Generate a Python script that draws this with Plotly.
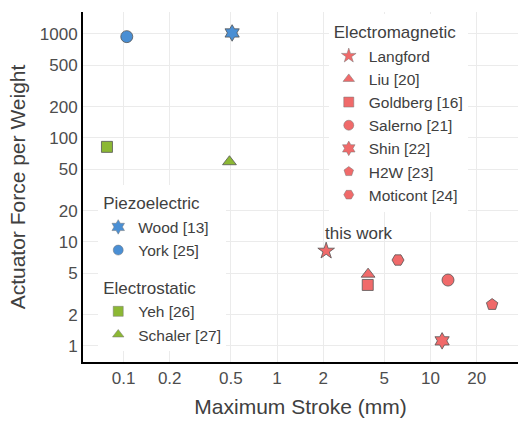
import plotly.graph_objects as go
import math

# Data (Maximum Stroke in mm, Actuator Force per Weight)
em_names = ["Langford", "Liu [20]", "Goldberg [16]", "Salerno [21]", "Shin [22]", "H2W [23]", "Moticont [24]"]
em_x = [2.09, 3.92, 3.9, 13.0, 11.9, 25.2, 6.14]
em_y = [8.2, 4.9, 3.86, 4.3, 1.12, 2.5, 6.7]
em_sym = ["star", "triangle-up", "square", "circle", "hexagram", "pentagon", "hexagon2"]

pz_names = ["Wood [13]", "York [25]"]
pz_x = [0.51, 0.105]
pz_y = [1020, 940]
pz_sym = ["hexagram", "circle"]

es_names = ["Yeh [26]", "Schaler [27]"]
es_x = [0.078, 0.49]
es_y = [82, 59]
es_sym = ["square", "triangle-up"]

x_ticks = [0.1, 0.2, 0.5, 1, 2, 5, 10, 20]
x_tick_text = ["0.1", "0.2", "0.5", "1", "2", "5", "10", "20"]
y_ticks = [1, 2, 5, 10, 20, 50, 100, 200, 500, 1000]
y_tick_text = ["1", "2", "5", "10", "20", "50", "100", "200", "500", "1000"]

RED = "#F06A6A"
BLUE = "#4A8FD4"
GREEN = "#8CB834"
OUTLINE = dict(color="#555555", width=0.8)
FONT = "Liberation Sans, Arial, sans-serif"

fig = go.Figure()

def sz(sym):
    if sym in ("star", "hexagram"):
        return 12.5
    if sym == "triangle-up":
        return 12
    if sym == "square":
        return 11
    return 12

def lsz(sym):
    if sym in ("star", "hexagram"):
        return 11
    return 10

groups = [
    (em_names, em_x, em_y, em_sym, RED, "legend", "em", "Electromagnetic"),
    (pz_names, pz_x, pz_y, pz_sym, BLUE, "legend2", "pz", "Piezoelectric"),
    (es_names, es_x, es_y, es_sym, GREEN, "legend2", "es", "Electrostatic"),
]

for names, xs, ys, syms, col, leg, grp, title in groups:
    for n, x, y, s in zip(names, xs, ys, syms):
        # plotted mark
        fig.add_trace(go.Scatter(x=[x], y=[y], mode="markers", name=n, showlegend=False,
                                 marker=dict(symbol=s, size=sz(s), color=col, line=OUTLINE)))
        # legend entry with smaller symbol
        fig.add_trace(go.Scatter(x=[None], y=[None], mode="markers", name=n,
                                 marker=dict(symbol=s, size=lsz(s), color=col, line=dict(color="#777777", width=0.5)),
                                 legend=leg, legendgroup=grp,
                                 legendgrouptitle=dict(text=title)))

fig.add_annotation(x=math.log10(em_x[0]), y=math.log10(em_y[0]), text="this work",
                   showarrow=False, xanchor="left", yanchor="bottom", yshift=6, xshift=-3,
                   font=dict(size=17, color="#404040", family=FONT))

legend_font = dict(size=15.5, color="#404040", family=FONT)
title_font = dict(size=17, color="#404040", family=FONT)
fig.update_layout(
    width=520, height=423,
    margin=dict(l=83, r=2, t=12, b=61),
    paper_bgcolor="white", plot_bgcolor="white",
    font=dict(family=FONT, color="#404040"),
    legend=dict(x=0.565, y=0.994, xanchor="left", yanchor="top", bgcolor="white",
                font=legend_font, grouptitlefont=title_font, tracegroupgap=6),
    legend2=dict(x=0.035, y=0.505, xanchor="left", yanchor="top", bgcolor="white",
                 font=legend_font, grouptitlefont=title_font, tracegroupgap=13),
    xaxis=dict(type="log", range=[-1.264, 1.570], tickvals=x_ticks, ticktext=x_tick_text,
               showgrid=True, gridcolor="#EBEBEB", gridwidth=1, zeroline=False,
               showline=True, linecolor="black", linewidth=2, ticks="",
               tickfont=dict(size=17, color="#4D4D4D"),
               title=dict(text="Maximum Stroke (mm)", font=dict(size=21, color="#404040"), standoff=12)),
    yaxis=dict(type="log", range=[-0.154, 3.21], tickvals=y_ticks, ticktext=y_tick_text,
               showgrid=True, gridcolor="#EBEBEB", gridwidth=1, zeroline=False,
               showline=True, linecolor="black", linewidth=2, ticks="",
               tickfont=dict(size=17, color="#4D4D4D"),
               title=dict(text="Actuator Force per Weight", font=dict(size=21, color="#404040"), standoff=8)),
)

fig.write_html("out.html")
